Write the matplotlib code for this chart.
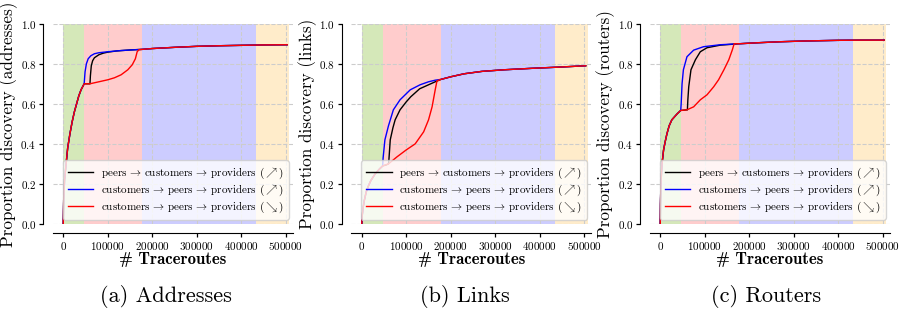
import matplotlib
matplotlib.use("Agg")
import matplotlib.pyplot as plt
import numpy as np

plt.rcParams['font.family'] = 'cmr10'
plt.rcParams['mathtext.fontset'] = 'cm'
plt.rcParams['axes.formatter.use_mathtext'] = True

# phase boundaries (# traceroutes)
phase_edges = [0, 47000, 178000, 433000, 508000]
phase_colors = ['#d5e8b9', '#ffcccc', '#ccccff', '#ffecca']

labels = [r'peers$\,\rightarrow\,$customers$\,\rightarrow\,$providers ($\nearrow$)',
          r'customers$\,\rightarrow\,$peers$\,\rightarrow\,$providers ($\nearrow$)',
          r'customers$\,\rightarrow\,$peers$\,\rightarrow\,$providers ($\searrow$)']
line_colors = ['black', 'blue', 'red']

# ---- (a) addresses
addr_head_x = [0, 1000, 3000, 6000, 10000, 15000, 20000, 25000, 30000, 35000, 40000, 47000]
addr_head_y = [0, 0.12, 0.22, 0.29, 0.38, 0.45, 0.51, 0.56, 0.60, 0.64, 0.67, 0.70]
addr_black_x = [47000, 60000, 61000, 63000, 66000, 70000, 80000, 90000, 100000, 120000, 150000, 178000]
addr_black_y = [0.70, 0.70, 0.74, 0.79, 0.815, 0.83, 0.845, 0.853, 0.858, 0.864, 0.869, 0.872]
addr_blue_x = [47000, 49000, 52000, 56000, 62000, 70000, 80000, 100000, 130000, 178000]
addr_blue_y = [0.70, 0.76, 0.80, 0.825, 0.84, 0.85, 0.855, 0.86, 0.866, 0.872]
addr_red_x = [47000, 60000, 80000, 100000, 115000, 130000, 145000, 155000, 162000, 166000, 170000, 178000]
addr_red_y = [0.70, 0.70, 0.71, 0.72, 0.73, 0.745, 0.77, 0.795, 0.825, 0.86, 0.87, 0.872]
addr_tail_x = [178000, 200000, 250000, 300000, 350000, 400000, 450000, 503000]
addr_tail_y = [0.872, 0.876, 0.882, 0.887, 0.890, 0.892, 0.894, 0.895]

# ---- (b) links
link_head_x = [0, 1000, 3000, 6000, 10000, 15000, 20000, 30000, 40000, 47000]
link_head_y = [0, 0.04, 0.08, 0.12, 0.16, 0.19, 0.215, 0.25, 0.275, 0.29]
link_black_x = [47000, 55000, 60000, 61000, 64000, 70000, 75000, 86000, 100000, 110000, 130000, 155000, 165000, 178000]
link_black_y = [0.29, 0.295, 0.30, 0.32, 0.42, 0.48, 0.52, 0.57, 0.61, 0.635, 0.675, 0.70, 0.71, 0.722]
link_blue_x = [47000, 48000, 52000, 60000, 71000, 86000, 109000, 131000, 150000, 165000, 178000]
link_blue_y = [0.29, 0.33, 0.42, 0.49, 0.57, 0.62, 0.67, 0.695, 0.71, 0.718, 0.722]
link_red_x = [47000, 60000, 79000, 100000, 120000, 139000, 150000, 158000, 165000, 169000, 178000]
link_red_y = [0.29, 0.30, 0.335, 0.37, 0.40, 0.46, 0.52, 0.585, 0.67, 0.715, 0.722]
link_tail_x = [178000, 200000, 230000, 270000, 320000, 380000, 440000, 503000]
link_tail_y = [0.722, 0.735, 0.75, 0.762, 0.77, 0.777, 0.783, 0.79]

# ---- (c) routers
rtr_head_x = [0, 500, 1500, 4000, 7500, 11000, 15000, 20000, 26000, 32000, 38000, 46000]
rtr_head_y = [0, 0.1, 0.2, 0.3, 0.37, 0.41, 0.45, 0.49, 0.52, 0.535, 0.55, 0.567]
rtr_black_x = [46000, 61000, 62000, 64000, 69000, 79000, 90000, 105000, 135000, 178000]
rtr_black_y = [0.567, 0.57, 0.62, 0.685, 0.77, 0.82, 0.86, 0.88, 0.893, 0.90]
rtr_blue_x = [46000, 47000, 49000, 52000, 60000, 75000, 97000, 135000, 178000]
rtr_blue_y = [0.567, 0.60, 0.70, 0.77, 0.835, 0.868, 0.885, 0.895, 0.90]
rtr_red_x = [46000, 60000, 75000, 90000, 105000, 120000, 131000, 143000, 154000, 162000, 166000, 178000]
rtr_red_y = [0.567, 0.57, 0.585, 0.62, 0.645, 0.685, 0.72, 0.77, 0.82, 0.87, 0.90, 0.90]
rtr_tail_x = [178000, 220000, 270000, 330000, 400000, 450000, 503000]
rtr_tail_y = [0.90, 0.905, 0.91, 0.914, 0.917, 0.918, 0.918]

panels = [
    ('addresses', '(a) Addresses', addr_head_x, addr_head_y,
     [(addr_black_x, addr_black_y), (addr_blue_x, addr_blue_y), (addr_red_x, addr_red_y)],
     addr_tail_x, addr_tail_y),
    ('links', '(b) Links', link_head_x, link_head_y,
     [(link_black_x, link_black_y), (link_blue_x, link_blue_y), (link_red_x, link_red_y)],
     link_tail_x, link_tail_y),
    ('routers', '(c) Routers', rtr_head_x, rtr_head_y,
     [(rtr_black_x, rtr_black_y), (rtr_blue_x, rtr_blue_y), (rtr_red_x, rtr_red_y)],
     rtr_tail_x, rtr_tail_y),
]

W, H = 904, 312
fig = plt.figure(figsize=(W / 100, H / 100), dpi=100)

ax_left_px = [53, 351.5, 650]
caption_x_px = [166, 465, 766]

for i, (name, caption, hx, hy, mids, tx, ty) in enumerate(panels):
    ax = fig.add_axes([ax_left_px[i] / W, (H - 224) / H, 240 / W, 200.3 / H])
    for k in range(len(phase_colors)):
        ax.axvspan(phase_edges[k], phase_edges[k + 1], color=phase_colors[k], lw=0, zorder=0)
    ax.grid(True, ls='--', color='#cccccc', lw=0.8)
    for (mx, my), c, lab in zip(mids, line_colors, labels):
        x = np.concatenate([hx, mx[1:], tx[1:]])
        y = np.concatenate([hy, my[1:], ty[1:]])
        ax.plot(x, y, color=c, lw=1.0, label=lab, zorder=3)
    ax.set_xlim(-23000, 516000)
    ax.set_ylim(0, 1.0)
    ax.set_xticks([0, 100000, 200000, 300000, 400000, 500000])
    ax.set_yticks([0, 0.2, 0.4, 0.6, 0.8, 1.0])
    ax.spines['top'].set_visible(False)
    ax.spines['right'].set_visible(False)
    ax.spines['left'].set_position(('outward', 7))
    ax.spines['bottom'].set_position(('outward', 6.5))
    ax.tick_params(labelsize=8, length=3, width=0.9, pad=2)
    ax.set_ylabel('Proportion discovery (%s)' % name, fontsize=12.3, labelpad=1.5)
    ax.set_xlabel('# Traceroutes', fontsize=12, fontfamily='cmb10', labelpad=0)
    ax.legend(loc='lower right', fontsize=8.0, handlelength=2.3, handletextpad=0.7,
              borderaxespad=0.4, labelspacing=0.15, framealpha=0.8, borderpad=0.45)
    fig.text(caption_x_px[i] / W, 1 - 296 / H, caption, fontsize=16,
             ha='center', va='center')

fig.savefig('out.png', dpi=100)
